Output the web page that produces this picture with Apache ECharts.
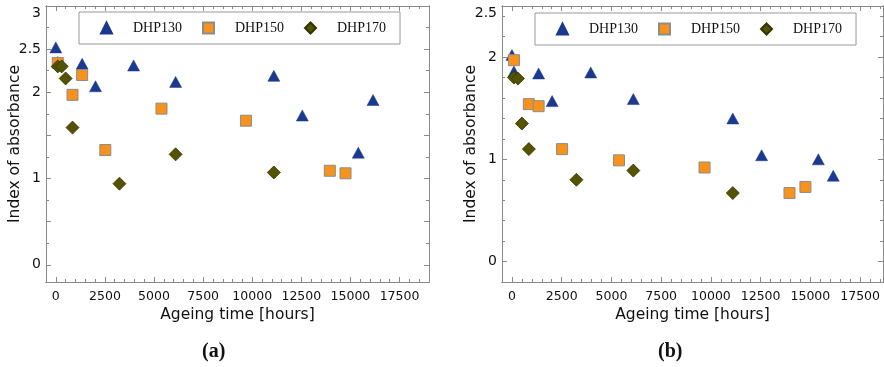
<!DOCTYPE html>
<html><head><meta charset="utf-8">
<script src="https://cdn.jsdelivr.net/npm/echarts@6/dist/echarts.min.js"></script>
<style>html,body{margin:0;padding:0;background:#fff}#c{width:884px;height:367px}</style>
</head><body><div id="c"></div>
<script>
// ---- data ----
const seriesNames = ['DHP130', 'DHP150', 'DHP170'];
const xTickLabels = [0, 2500, 5000, 7500, 10000, 12500, 15000, 17500];
const yTickLabelsA = [0, 1, 2, 2.5, 3];
const yTickLabelsB = [0, 1, 2, 2.5];
const captions = ['(a)', '(b)'];
// panel (a)
const dhp130A = [[0,2.52],[100,2.35],[1340,2.33],[2020,2.07],[3960,2.31],[6100,2.12],[11100,2.19],[12550,1.73],[15400,1.30],[16150,1.91]];
const dhp150A = [[100,2.34],[850,1.97],[1340,2.20],[2520,1.33],[5380,1.81],[9680,1.67],[13950,1.09],[14750,1.06]];
const dhp170A = [[100,2.30],[300,2.30],[500,2.16],[850,1.59],[3240,0.94],[6100,1.28],[11100,1.07]];
// panel (b)
const dhp130B = [[0,2.02],[100,1.86],[1340,1.84],[2020,1.57],[3960,1.85],[6100,1.59],[11100,1.40],[12550,1.04],[15400,1.00],[16150,0.84]];
const dhp150B = [[100,1.97],[850,1.54],[1340,1.52],[2520,1.10],[5380,0.99],[9680,0.92],[13950,0.67],[14750,0.73]];
const dhp170B = [[100,1.80],[300,1.79],[500,1.35],[850,1.10],[3240,0.80],[6100,0.89],[11100,0.67]];

// ---- helpers ----
function range(a, b, s) { const r = []; for (let v = a; v <= b + 1e-9; v += s) r.push(Math.round(v * 1000) / 1000); return r; }
const axisColor = '#8a8a8a';
const tickFont = 'DejaVu Sans, sans-serif';

const panels = [
  { grid: { left: 46, top: 6, width: 383, height: 276 }, xmax: 19000, ymin: -0.2, ymax: 3,
    yLabels: yTickLabelsA, yMajor: range(0, 3, 0.5), yMinor: range(0.25, 2.75, 0.5),
    data: [dhp130A, dhp150A, dhp170A], legendLeft: 79, legendTop: 12, cap: captions[0], capX: 218 },
  { grid: { left: 502, top: 6, width: 381, height: 276 }, xmax: 18650, ymin: -0.2, ymax: 2.5,
    yLabels: yTickLabelsB, yMajor: [0, 1, 2], yMinor: range(-0.2, 2.4, 0.2).filter(v => Math.abs(v - Math.round(v)) > 1e-6),
    data: [dhp130B, dhp150B, dhp170B], legendLeft: 535, legendTop: 13, cap: captions[1], capX: 674 }
];

const xMajor = xTickLabels;
const xMinor = range(500, 18500, 500).filter(v => v % 2500 !== 0);

const grids = [], xAxes = [], yAxes = [], series = [], legends = [], graphics = [];
const styles = [
  { symbol: 'triangle', symbolSize: [12, 11], itemStyle: { color: '#1a398f', borderColor: '#1a398f', borderWidth: 0.5, opacity: 1 } },
  { symbol: 'rect', symbolSize: 11, itemStyle: { color: '#f7921c', borderColor: '#8c8c8c', borderWidth: 1, opacity: 1 } },
  { symbol: 'diamond', symbolSize: 13, itemStyle: { color: '#545400', borderColor: '#333300', borderWidth: 0.8, opacity: 1 } }
];

panels.forEach((p, gi) => {
  grids.push(p.grid);
  const xBase = xAxes.length, yBase = yAxes.length;
  const mkX = (pos, ticks, len, withLabel) => ({
    type: 'value', gridIndex: gi, position: pos, min: -500, max: p.xmax,
    axisLine: { show: true, onZero: false, lineStyle: { color: axisColor, width: 1 } },
    axisTick: { show: true, inside: true, length: len, customValues: ticks, lineStyle: { color: axisColor } },
    axisLabel: withLabel ? { show: true, customValues: xTickLabels, formatter: v => String(v), margin: 8, color: '#111', fontSize: 12.5, fontFamily: tickFont } : { show: false },
    splitLine: { show: false },
    name: withLabel ? 'Ageing time [hours]' : '', nameLocation: 'middle', nameGap: 25, nameMoveOverlap: false,
    nameTextStyle: { fontSize: 15.5, color: '#111', fontFamily: tickFont }
  });
  xAxes.push(mkX('bottom', xMajor, 5, true), mkX('bottom', xMinor, 3, false), mkX('top', xMajor, 5, false), mkX('top', xMinor, 3, false));
  const mkY = (pos, ticks, len, withLabel) => ({
    type: 'value', gridIndex: gi, position: pos, min: p.ymin, max: p.ymax,
    axisLine: { show: true, onZero: false, lineStyle: { color: axisColor, width: 1 } },
    axisTick: { show: true, inside: true, length: len, customValues: ticks, lineStyle: { color: axisColor } },
    axisLabel: withLabel ? { show: true, customValues: p.yLabels, formatter: v => String(v), margin: 5, color: '#111', fontSize: 14, fontFamily: tickFont, verticalAlignMaxLabel: 'top' } : { show: false },
    splitLine: { show: false },
    name: withLabel ? 'Index of absorbance' : '', nameLocation: 'middle', nameGap: 23, nameMoveOverlap: false,
    nameTextStyle: { fontSize: 15.5, color: '#111', fontFamily: tickFont }
  });
  yAxes.push(mkY('left', p.yMajor, 5, true), mkY('left', p.yMinor, 3, false), mkY('right', p.yMajor, 5, false), mkY('right', p.yMinor, 3, false));
  seriesNames.forEach((name, si) => {
    series.push(Object.assign({ type: 'scatter', name, xAxisIndex: xBase, yAxisIndex: yBase, data: p.data[si], z: 3 + si }, styles[si]));
  });
  legends.push({
    left: p.legendLeft, top: p.legendTop, orient: 'horizontal', data: seriesNames,
    itemWidth: 11, itemHeight: 11, itemGap: 20, selectedMode: false,
    borderColor: '#999', borderWidth: 1, padding: [9, 14, 9, 21],
    textStyle: { fontFamily: 'Liberation Serif, serif', fontSize: 14, color: '#111', padding: [0, 0, 0, 16] }
  });
  graphics.push({ type: 'text', left: p.capX - 16, top: 342, style: { text: p.cap, font: 'bold 20px "Liberation Serif", serif', fill: '#111' } });
});

const chart = echarts.init(document.getElementById('c'), null, { renderer: 'canvas' });
chart.setOption({
  animation: false, backgroundColor: '#fff',
  grid: grids, xAxis: xAxes, yAxis: yAxes, series, legend: legends, graphic: graphics
});
</script></body></html>
